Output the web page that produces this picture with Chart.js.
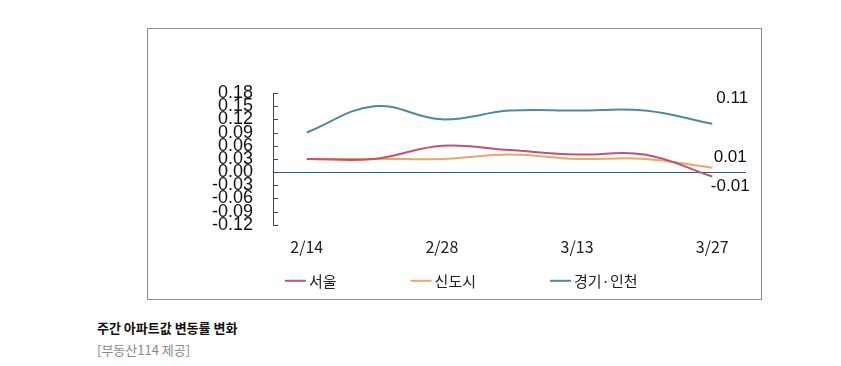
<!DOCTYPE html>
<html>
<head>
<meta charset="utf-8">
<script src="https://cdn.jsdelivr.net/npm/chart.js@4"></script>
<style>
	body { margin: 0; background: #fff; }
	#box {
		position: absolute;
		left: 147px;
		top: 28px;
		width: 613px;
		height: 270px;
		border: 1px solid #8a8a8a;
	}
	.title {
		position: absolute;
		left: 97px;
		top: 318px;
		font: bold 13px "Noto Sans CJK KR", sans-serif;
		color: #111;
	}
	.source {
		position: absolute;
		left: 97px;
		top: 340px;
		font: 13px "Noto Sans CJK KR", sans-serif;
		color: #888;
	}
</style>
</head>
<body>
<div id="box"><canvas id="chart" width="613" height="270"></canvas></div>
<div class="title">주간 아파트값 변동률 변화</div>
<div class="source">[부동산114 제공]</div>
<script>
const weeks = ["2/14", "2/21", "2/28", "3/6", "3/13", "3/20", "3/27"];
const seoul = [0.03, 0.03, 0.06, 0.05, 0.04, 0.04, -0.01];
const newTowns = [0.03, 0.03, 0.03, 0.04, 0.03, 0.03, 0.01];
const gyeonggiIncheon = [0.09, 0.15, 0.12, 0.14, 0.14, 0.14, 0.11];

const sansFont = "Liberation Sans, Arial, sans-serif";
const krFont = "Noto Sans CJK KR, sans-serif";

// last value labels next to the line ends
const endLabels = {
	id: "endLabels",
	afterDatasetsDraw(chart) {
		const ctx = chart.ctx;
		ctx.save();
		ctx.font = "17px " + sansFont;
		ctx.fillStyle = "#111";
		ctx.textAlign = "center";
		ctx.textBaseline = "middle";
		chart.data.datasets.forEach((ds, i) => {
			const meta = chart.getDatasetMeta(i);
			const pt = meta.data[meta.data.length - 1];
			const value = ds.data[ds.data.length - 1];
			ctx.fillText(value.toFixed(2), pt.x + ds.labelDx, pt.y + ds.labelDy);
		});
		ctx.restore();
	},
};

// short tick marks pointing into the plot
const innerTicks = {
	id: "innerTicks",
	afterDraw(chart) {
		const y = chart.scales.y;
		const ctx = chart.ctx;
		ctx.save();
		ctx.strokeStyle = "#444";
		ctx.lineWidth = 1;
		y.ticks.forEach((t) => {
			const py = Math.round(y.getPixelForValue(t.value)) + 0.5;
			ctx.beginPath();
			ctx.moveTo(y.right, py);
			ctx.lineTo(y.right + 5, py);
			ctx.stroke();
		});
		ctx.restore();
	},
};

// legend row under the x labels, wide gaps between items
const lineLegend = {
	id: "lineLegend",
	afterDraw(chart) {
		const ctx = chart.ctx;
		const area = chart.chartArea;
		const cy = area.bottom + 56;
		let x = area.left + 12;
		ctx.save();
		ctx.font = "15px " + krFont;
		ctx.textBaseline = "middle";
		ctx.textAlign = "left";
		chart.data.datasets.forEach((ds) => {
			ctx.strokeStyle = ds.borderColor;
			ctx.lineWidth = 2;
			ctx.beginPath();
			ctx.moveTo(x, cy);
			ctx.lineTo(x + 21, cy);
			ctx.stroke();
			ctx.fillStyle = "#222";
			ctx.fillText(ds.label, x + 24, cy);
			x += 24 + ctx.measureText(ds.label).width + 74;
		});
		ctx.restore();
	},
};

const data = {
	labels: weeks,
	datasets: [
		{
			label: "서울",
			data: seoul,
			borderColor: "#c9506c",
			backgroundColor: "#c9506c",
			labelDx: 18,
			labelDy: 10,
		},
		{
			label: "신도시",
			data: newTowns,
			borderColor: "#eaa768",
			backgroundColor: "#eaa768",
			labelDx: 18,
			labelDy: -10,
		},
		{
			label: "경기·인천",
			data: gyeonggiIncheon,
			borderColor: "#4e8a9e",
			backgroundColor: "#4e8a9e",
			labelDx: 20,
			labelDy: -25,
		},
	],
};

const options = {
	responsive: false,
	animation: false,
	layout: {
		padding: { left: 60, right: 15, top: 64, bottom: 37 },
	},
	elements: {
		line: { borderWidth: 2, tension: 0.4 },
		point: { radius: 0 },
	},
	plugins: {
		tooltip: { enabled: false },
		legend: { display: false },
	},
	scales: {
		x: {
			offset: true,
			grid: { display: false },
			border: { display: false },
			ticks: {
				autoSkip: false,
				maxRotation: 0,
				padding: 5,
				color: "#222",
				font: { family: krFont, size: 16 },
				callback: (value, index) => (index % 2 === 0 ? weeks[index] : ""),
			},
		},
		y: {
			min: -0.12,
			max: 0.18,
			afterFit: (scale) => {
				scale.width = 65;
			},
			grid: {
				drawTicks: false,
				color: (c) => (c.tick && Math.abs(c.tick.value) < 1e-9 ? "#34596a" : "transparent"),
			},
			border: { display: true, color: "#444" },
			ticks: {
				stepSize: 0.03,
				autoSkip: false,
				padding: 20,
				color: "#111",
				font: { family: sansFont, size: 18 },
				callback: (value) => value.toFixed(2),
			},
		},
	},
};

new Chart(document.querySelector("#chart"), {
	type: "line",
	data,
	options,
	plugins: [endLabels, innerTicks, lineLegend],
});
</script>
</body>
</html>
